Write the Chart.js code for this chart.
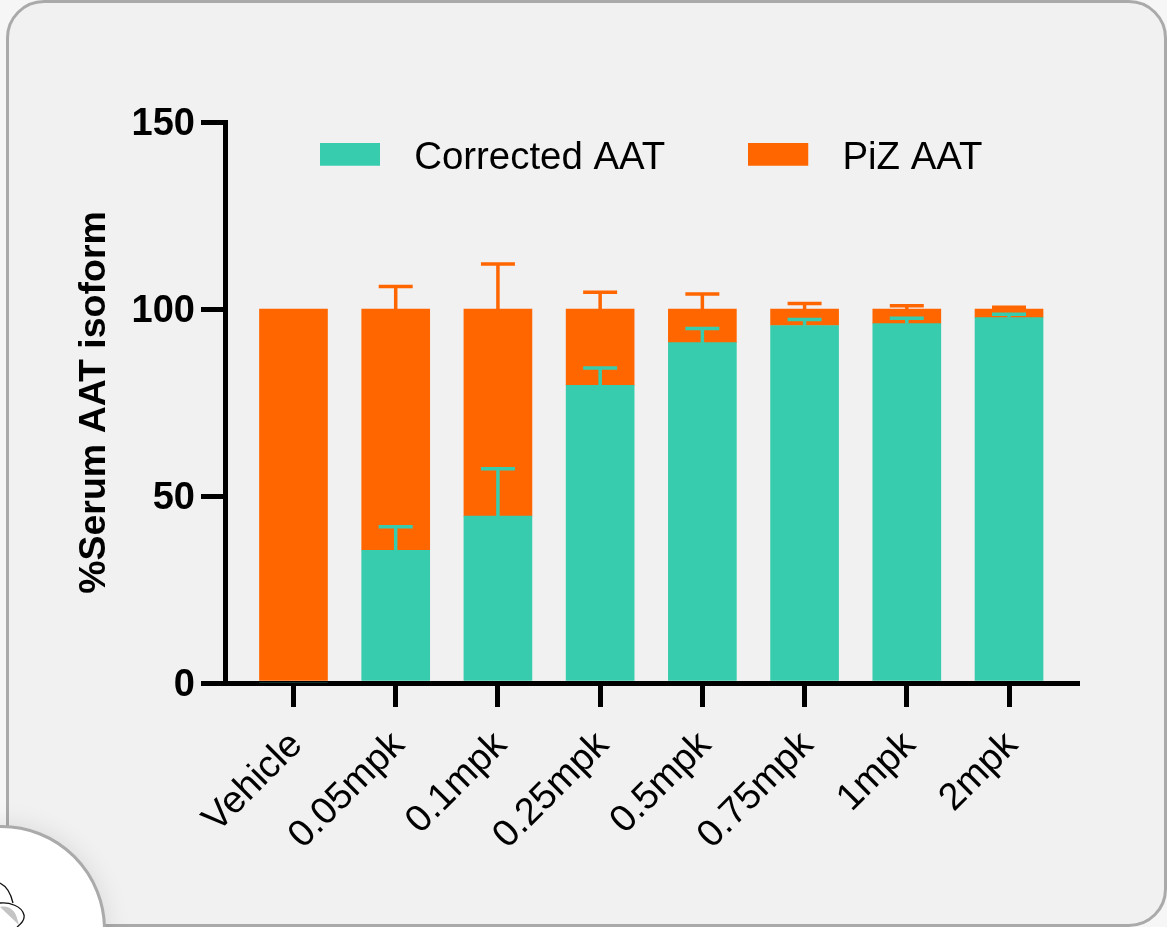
<!DOCTYPE html>
<html>
<head>
<meta charset="utf-8">
<script src="https://cdn.jsdelivr.net/npm/chart.js@4"></script>
<style>
  html, body { margin: 0; background: #fff; }
  #wrap { position: relative; width: 1167px; height: 927px; overflow: hidden; background: #f6f6f6; }
  #panel {
    position: absolute; left: 6px; top: 0; width: 1155px; height: 921px;
    background: #f1f1f1; border: 3px solid #aaa; border-radius: 38px;
  }
  #badge {
    position: absolute; left: -103px; top: 825px; width: 203px; height: 203px;
    background: #fff; border: 3px solid #aaa; border-radius: 50%;
    box-shadow: 0 0 26px rgba(0,0,0,.1);
  }
  #icon { position: absolute; left: 0; top: 880px; }
  canvas { position: absolute; left: 0; top: 0; }
</style>
</head>
<body>
<div id="wrap">
  <div id="panel"></div>
  <div id="badge"></div>
  <svg id="icon" width="40" height="47" fill="none" stroke="#111" stroke-width="1.3">
    <path d="M0 3 C6 6 11 14 13 23"/>
    <path d="M0 27 C8 25 15 30 17 38 L19 45" stroke="#bbb" stroke-width="0" fill="#c4c4c4"/>
    <path d="M0 23 C9 22 22 26 24 35 C25 40 21 44 17 47"/>
  </svg>
  <canvas id="chart" width="1167" height="927"></canvas>
</div>
<script>
const categories = ['Vehicle', '0.05mpk', '0.1mpk', '0.25mpk', '0.5mpk', '0.75mpk', '1mpk', '2mpk']
const correctedAat = [0, 35.5, 44.6, 79.6, 91, 95.6, 96.1, 97.7]
const pizAat = [100, 64.5, 55.4, 20.4, 9, 4.4, 3.9, 2.3]
// top of each error whisker, in axis units
const correctedErrTop = [null, 41.8, 57.3, 84.2, 94.8, 97.2, 97.5, 98.6]
const pizErrTop = [null, 106, 112, 104.5, 104, 101.5, 100.9, 100.5]
const yTicks = [0, 50, 100, 150]

const colors = { teal: '#38ccae', orange: '#ff6600', axis: '#000' }

function swatch(color) {
  // legend key with extra room on the right, the gap to the text is wider than Chart.js default
  const c = document.createElement('canvas')
  c.width = 75
  c.height = 31
  const g = c.getContext('2d')
  g.fillStyle = color
  g.fillRect(0, 0, 60, 23)
  return c
}

const errorBars = {
  id: 'errorBars',
  afterDatasetsDraw(chart) {
    const { ctx, scales: { x, y } } = chart
    const draw = (tops, bases, color) => {
      ctx.save()
      ctx.strokeStyle = color
      ctx.lineWidth = 3.5
      tops.forEach((top, i) => {
        if (top === null) return
        const px = x.getPixelForValue(i)
        ctx.beginPath()
        ctx.moveTo(px, y.getPixelForValue(bases[i]))
        ctx.lineTo(px, y.getPixelForValue(top))
        ctx.moveTo(px - 17, y.getPixelForValue(top))
        ctx.lineTo(px + 17, y.getPixelForValue(top))
        ctx.stroke()
      })
      ctx.restore()
    }
    draw(correctedErrTop, correctedAat, colors.teal)
    draw(pizErrTop, categories.map(() => 100), colors.orange)
  }
}

// legend sits inside the plot, so it takes no room in the layout
const legendPlace = {
  id: 'legendPlace',
  beforeLayout(chart) {
    const legend = chart.legend
    const fit = legend.fit.bind(legend)
    legend.fit = () => {
      fit()
      legend.height = 0
    }
  },
  beforeDraw(chart) {
    const legend = chart.legend
    legend.left = 237
    legend.right = 1100
    legend.top = 56
    legend.bottom = 220
    legend.height = 164
  }
}

new Chart(document.getElementById('chart'), {
  type: 'bar',
  data: {
    datasets: [{
      label: 'Corrected AAT',
      data: correctedAat.map((v, i) => ({ x: i, y: v })),
      backgroundColor: colors.teal,
      barThickness: 68
    }, {
      label: 'PiZ AAT',
      data: pizAat.map((v, i) => ({ x: i, y: v })),
      backgroundColor: colors.orange,
      barThickness: 68
    }]
  },
  options: {
    responsive: false,
    animation: false,
    layout: { padding: { left: 72, top: 122, right: 90, bottom: 0 } },
    plugins: {
      tooltip: { enabled: false },
      legend: {
        position: 'top',
        align: 'start',
        labels: {
          usePointStyle: true,
          pointStyle: 'rect',
          pointStyleWidth: 75,
          padding: 83,
          color: '#000',
          font: { family: '"Liberation Sans"', size: 38.4 },
          generateLabels(chart) {
            return chart.data.datasets.map((d, i) => ({
              text: d.label,
              datasetIndex: i,
              fontColor: '#000',
              fillStyle: d.backgroundColor,
              strokeStyle: d.backgroundColor,
              lineWidth: 0,
              pointStyle: swatch(d.backgroundColor)
            }))
          }
        }
      }
    },
    scales: {
      x: {
        type: 'linear',
        stacked: true,
        offset: false,
        min: -0.67,
        max: 7.665,
        afterBuildTicks(scale) {
          scale.ticks = categories.map((c, i) => ({ value: i }))
        },
        afterFit(scale) { scale.height = 244 },
        border: { color: colors.axis, width: 5 },
        grid: { offset: false, drawOnChartArea: false, color: colors.axis, lineWidth: 5, tickLength: 24 },
        ticks: {
          autoSkip: false,
          minRotation: 45,
          maxRotation: 45,
          padding: 16,
          labelOffset: 3,
          color: '#000',
          font: { family: '"Liberation Sans"', size: 38 },
          callback: v => categories[v]
        }
      },
      y: {
        stacked: true,
        min: 0,
        max: 150,
        afterBuildTicks(scale) {
          scale.ticks = yTicks.map(v => ({ value: v }))
        },
        afterFit(scale) { scale.width = 153 },
        border: { color: colors.axis, width: 5 },
        grid: { drawOnChartArea: false, color: colors.axis, lineWidth: 5, tickLength: 24 },
        title: {
          display: true,
          text: '%Serum AAT isoform',
          color: '#000',
          padding: { top: 0, bottom: 0 },
          font: { family: '"Liberation Sans"', size: 37.5, weight: 'bold' }
        },
        ticks: {
          padding: 6,
          labelOffset: 3,
          color: '#000',
          font: { family: '"Liberation Sans"', size: 38, weight: 'bold' }
        }
      }
    }
  },
  plugins: [errorBars, legendPlace]
})
</script>
</body>
</html>
